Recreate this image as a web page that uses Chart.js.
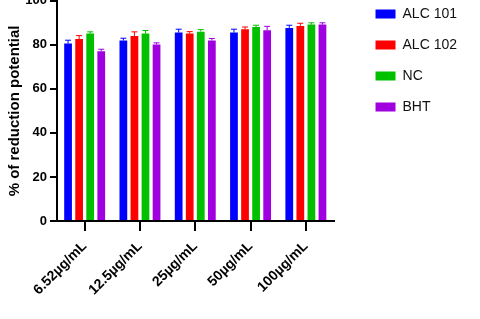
<!DOCTYPE html>
<html>
<head>
<meta charset="utf-8">
<script src="https://cdn.jsdelivr.net/npm/chart.js@4/dist/chart.umd.min.js"></script>
<style>
  html,body{margin:0;padding:0;background:#fff;overflow:hidden;}
  #wrap{position:absolute;left:0;top:-10px;width:480px;height:329px;}
</style>
</head>
<body>
<div id="wrap"><canvas id="c"></canvas></div>
<script>
// categories (x axis)
var categories = ['6.52µg/mL','12.5µg/mL','25µg/mL','50µg/mL','100µg/mL'];
// series names + colours
var seriesNames = ['ALC 101','ALC 102','NC','BHT'];
var seriesColors = ['#0000ff','#ff0000','#00c000','#a000e0'];
// mean values (% reduction potential)
var alc101 = [80.6, 82.0, 85.6, 85.6, 87.7];
var alc102 = [82.6, 84.0, 85.1, 87.1, 88.6];
var nc     = [85.1, 85.1, 86.0, 88.1, 89.2];
var bht    = [77.1, 80.2, 82.0, 86.6, 89.2];
// error (SD) values
var alc101Err = [1.5, 1.0, 1.5, 1.5, 1.2];
var alc102Err = [1.6, 1.9, 0.9, 1.0, 1.2];
var ncErr     = [0.8, 1.4, 0.9, 0.8, 0.8];
var bhtErr    = [0.9, 0.7, 0.9, 1.8, 0.8];
// y axis ticks
var yTicks = [0, 20, 40, 60, 80, 100];

var seriesValues = [alc101, alc102, nc, bht];
var seriesErrors = [alc101Err, alc102Err, ncErr, bhtErr];
var FONT = '"Liberation Sans", Arial, sans-serif';

var datasets = [];
for (var i = 0; i < seriesNames.length; i++) {
  datasets.push({
    label: seriesNames[i],
    data: seriesValues[i],
    errors: seriesErrors[i],
    backgroundColor: seriesColors[i],
    borderColor: seriesColors[i],
    borderWidth: 0
  });
}

// draws error bars (up only) from data through the y scale
var errorBars = {
  id: 'errorBars',
  afterDatasetsDraw: function(chart) {
    var ctx = chart.ctx, y = chart.scales.y;
    chart.data.datasets.forEach(function(ds, di) {
      var meta = chart.getDatasetMeta(di);
      meta.data.forEach(function(bar, j) {
        var top = y.getPixelForValue(ds.data[j] + ds.errors[j]);
        ctx.save();
        ctx.strokeStyle = ds.borderColor;
        ctx.lineWidth = 1;
        ctx.beginPath();
        ctx.moveTo(bar.x, bar.y);
        ctx.lineTo(bar.x, top);
        ctx.moveTo(bar.x - 3, top);
        ctx.lineTo(bar.x + 3, top);
        ctx.stroke();
        ctx.restore();
      });
    });
  }
};

// legend sits a bit higher than the plot top
var legendNudge = {
  id: 'legendNudge',
  afterLayout: function(chart) {
    chart.legend.top -= 9;
    chart.legend.bottom -= 9;
  }
};

new Chart(document.getElementById('c'), {
  type: 'bar',
  data: { labels: categories, datasets: datasets },
  plugins: [errorBars, legendNudge],
  options: {
    responsive: true,
    maintainAspectRatio: false,
    animation: false,
    layout: { padding: { top: 9, right: 13, bottom: 0, left: 0 } },
    datasets: { bar: { categoryPercentage: 0.8, barPercentage: 0.7 } },
    plugins: {
      tooltip: { enabled: false },
      legend: {
        position: 'right',
        align: 'start',
        maxWidth: 200,
        labels: {
          boxWidth: 20,
          boxHeight: 9,
          padding: 17,
          color: '#111',
          font: { family: FONT, size: 14 }
        }
      }
    },
    scales: {
      x: {
        grid: { display: true, drawOnChartArea: false, color: '#000', lineWidth: 2, tickLength: 10, offset: false },
        border: { color: '#000', width: 2 },
        ticks: {
          color: '#000',
          minRotation: 45, maxRotation: 45,
          padding: 7,
          font: { family: FONT, size: 14, weight: 'bold' }
        },
        afterFit: function(s) { s.height = 98; }
      },
      y: {
        min: 0, max: 100,
        afterBuildTicks: function(s) { s.ticks = yTicks.map(function(v){ return { value: v }; }); },
        grid: { display: true, drawOnChartArea: false, color: '#000', lineWidth: 2, tickLength: 7 },
        border: { color: '#000', width: 2 },
        ticks: {
          color: '#000',
          padding: 3,
          font: { family: FONT, size: 13, weight: 'bold' }
        },
        title: {
          display: true,
          text: '% of reduction potential',
          color: '#000',
          padding: { top: 6, bottom: 0 },
          font: { family: FONT, size: 15, weight: 'bold' }
        },
        afterFit: function(s) { s.width = 57; }
      },
      gap: {
        type: 'linear',
        position: 'right',
        display: true,
        grid: { display: false },
        border: { display: false },
        ticks: { display: false },
        afterFit: function(s) { s.width = 25; }
      }
    }
  }
});
</script>
</body>
</html>
